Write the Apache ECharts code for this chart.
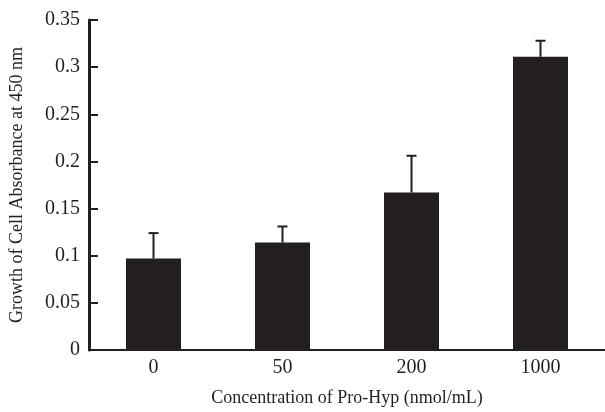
<!DOCTYPE html>
<html>
<head>
<meta charset="utf-8">
<script src="https://cdn.jsdelivr.net/npm/echarts@6/dist/echarts.min.js"></script>
<style>
  html, body { margin: 0; padding: 0; background: #fff; }
  #chart { width: 605px; height: 412px; }
</style>
</head>
<body>
<div id="chart"></div>
<script>
// Pro-Hyp concentrations (nmol/mL)
const categories = ['0', '50', '200', '1000'];
// Mean absorbance at 450 nm
const meanValues = [0.097, 0.114, 0.167, 0.311];
// Upper end of the error bar (mean + SD)
const upperValues = [0.124, 0.131, 0.206, 0.328];
const yTicks = { min: 0, max: 0.35, step: 0.05 };

const ink = '#231f20';
const fontFamily = '"Liberation Serif", "DejaVu Serif", serif';

const chart = echarts.init(document.getElementById('chart'), null, { renderer: 'canvas' });

const errorData = categories.map((c, i) => [i, meanValues[i], upperValues[i]]);

chart.setOption({
  animation: false,
  backgroundColor: '#ffffff',
  grid: { left: 89, top: 20, width: 520, height: 332, containLabel: false },
  xAxis: {
    type: 'category',
    data: categories,
    name: 'Concentration of Pro-Hyp (nmol/mL)',
    nameLocation: 'middle',
    nameGap: 39,
    nameTextStyle: { color: ink, fontFamily, fontSize: 18 },
    axisLine: { lineStyle: { color: ink, width: 2 } },
    axisTick: { inside: true, length: 8, lineStyle: { color: ink, width: 2 } },
    axisLabel: { color: ink, fontFamily, fontSize: 20, margin: 8 }
  },
  yAxis: {
    type: 'value',
    min: yTicks.min,
    max: yTicks.max,
    interval: yTicks.step,
    name: 'Growth of Cell Absorbance at 450 nm',
    nameLocation: 'middle',
    nameGap: 63,
    nameTextStyle: { color: ink, fontFamily, fontSize: 18 },
    splitLine: { show: false },
    axisLine: { show: true, lineStyle: { color: ink, width: 3 } },
    axisTick: { show: true, inside: true, length: 9, lineStyle: { color: ink, width: 2 } },
    axisLabel: { color: ink, fontFamily, fontSize: 20, margin: 9 }
  },
  series: [
    {
      type: 'bar',
      data: meanValues,
      barWidth: 55,
      itemStyle: { color: ink }
    },
    {
      type: 'custom',
      data: errorData,
      z: 3,
      renderItem: function (params, api) {
        const x = api.value(0);
        const base = api.coord([x, api.value(1)]);
        const top = api.coord([x, api.value(2)]);
        const half = 5;
        const style = { stroke: ink, lineWidth: 2 };
        return {
          type: 'group',
          children: [
            { type: 'line', shape: { x1: base[0], y1: base[1], x2: top[0], y2: top[1] }, style },
            { type: 'line', shape: { x1: top[0] - half, y1: top[1], x2: top[0] + half, y2: top[1] }, style }
          ]
        };
      }
    }
  ]
});
</script>
</body>
</html>
